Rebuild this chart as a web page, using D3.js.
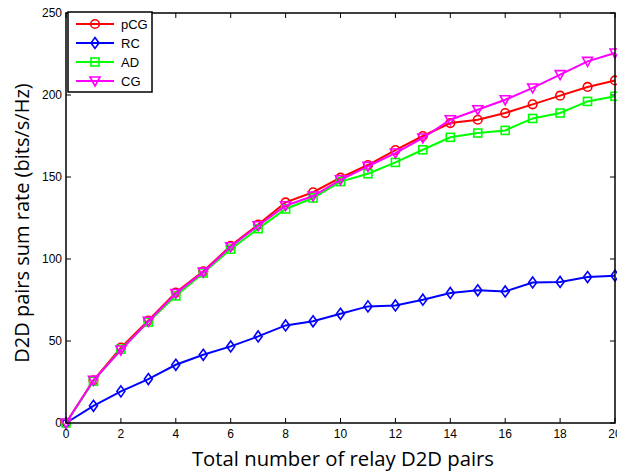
<!DOCTYPE html>
<html>
<head>
<meta charset="utf-8">
<script src="https://cdn.jsdelivr.net/npm/d3@7"></script>
<style>
  body { margin: 0; background: #fff; }
  svg { display: block; }
</style>
</head>
<body>
<div id="wrapper"></div>
<script>
// data
const pairs = d3.range(0, 21);
const pCG = [0, 26, 46, 62.5, 79.5, 92.5, 108, 121, 134.5, 140.7, 149.6, 157.3, 166.4, 175, 182.9, 184.9, 189, 194.3, 199.6, 204.9, 208.9];
const RC  = [0, 10.5, 19.3, 26.8, 35.5, 41.6, 46.7, 52.8, 59.5, 62, 66.6, 71.1, 71.7, 75.2, 79.3, 80.9, 80.2, 85.7, 86, 89, 89.8];
const AD  = [0, 25.5, 45, 61.5, 77.5, 91.5, 106, 118.5, 130.5, 137.2, 147.2, 152, 158.9, 166.6, 174.2, 176.8, 178.4, 185.7, 189, 196.1, 199.2];
const CG  = [0, 26, 44.5, 62, 79, 92, 107.5, 120.3, 132.5, 138.4, 148.3, 156.5, 164.6, 173.8, 184.9, 191, 197.1, 204.3, 212.4, 220.5, 225.6];
const xTicks = [0, 2, 4, 6, 8, 10, 12, 14, 16, 18, 20];
const yTicks = [0, 50, 100, 150, 200, 250];

const series = [
  {name: "pCG", values: pCG, color: "#ff0000", marker: "circle"},
  {name: "RC",  values: RC,  color: "#0000ff", marker: "diamond"},
  {name: "AD",  values: AD,  color: "#00ff00", marker: "square"},
  {name: "CG",  values: CG,  color: "#ff00ff", marker: "triangle"}
];

const dimensions = {width: 617, height: 473};
const margin = {left: 66, right: 2, top: 13, bottom: 50};

const xScale = d3.scaleLinear().domain([0, 20]).range([margin.left, dimensions.width - margin.right]);
const yScale = d3.scaleLinear().domain([0, 250]).range([dimensions.height - margin.bottom, margin.top]);

const svg = d3.select("#wrapper").append("svg")
  .attr("width", dimensions.width)
  .attr("height", dimensions.height);

const x0 = xScale(0), x1 = xScale(20), y0 = yScale(0), y1 = yScale(250);

// ticks (inside, on all four sides, MATLAB style)
const tickLen = 5;
const ticks = svg.append("g").attr("stroke", "#000").attr("stroke-width", 1);
xTicks.forEach(t => {
  ticks.append("line").attr("x1", xScale(t)).attr("x2", xScale(t)).attr("y1", y0).attr("y2", y0 - tickLen);
  ticks.append("line").attr("x1", xScale(t)).attr("x2", xScale(t)).attr("y1", y1).attr("y2", y1 + tickLen);
});
yTicks.forEach(t => {
  ticks.append("line").attr("x1", x0).attr("x2", x0 + tickLen).attr("y1", yScale(t)).attr("y2", yScale(t));
  ticks.append("line").attr("x1", x1).attr("x2", x1 - tickLen).attr("y1", yScale(t)).attr("y2", yScale(t));
});

// tick labels
svg.append("g").selectAll("text").data(xTicks).join("text")
  .attr("x", d => xScale(d)).attr("y", y0 + 15)
  .attr("text-anchor", "middle")
  .attr("font-family", "Liberation Sans, Arial, sans-serif").attr("font-size", 12)
  .text(d => d);
svg.append("g").selectAll("text").data(yTicks).join("text")
  .attr("x", x0 - 4).attr("y", d => yScale(d) + 4)
  .attr("text-anchor", "end")
  .attr("font-family", "Liberation Sans, Arial, sans-serif").attr("font-size", 12)
  .text(d => d);

// lines
const line = d3.line().x((d, i) => xScale(pairs[i])).y(d => yScale(d));

function drawMarker(g, type, color, cx, cy) {
  if (type === "circle") {
    g.append("circle").attr("cx", cx).attr("cy", cy).attr("r", 4.3);
  } else if (type === "diamond") {
    g.append("path").attr("d", `M${cx},${cy - 5.5}L${cx + 4},${cy}L${cx},${cy + 5.5}L${cx - 4},${cy}Z`);
  } else if (type === "square") {
    g.append("rect").attr("x", cx - 4).attr("y", cy - 4).attr("width", 8).attr("height", 8);
  } else {
    g.append("path").attr("d", `M${cx - 5},${cy - 4}L${cx + 5},${cy - 4}L${cx},${cy + 5}Z`);
  }
}

series.forEach(s => {
  const g = svg.append("g");
  g.append("path").datum(s.values)
    .attr("d", line)
    .attr("fill", "none")
    .attr("stroke", s.color)
    .attr("stroke-width", 2);
  const mg = g.append("g").attr("fill", "none").attr("stroke", s.color).attr("stroke-width", 1.6);
  s.values.forEach((v, i) => drawMarker(mg, s.marker, s.color, xScale(pairs[i]), yScale(v)));
});

// box
svg.append("rect")
  .attr("x", x0).attr("y", y1)
  .attr("width", x1 - x0).attr("height", y0 - y1)
  .attr("fill", "none").attr("stroke", "#000").attr("stroke-width", 1.5);

// legend
const legend = svg.append("g").attr("transform", "translate(68,12)");
legend.append("rect").attr("width", 84).attr("height", 80)
  .attr("fill", "#fff").attr("stroke", "#000").attr("stroke-width", 1.5);
series.forEach((s, i) => {
  const ly = 12 + i * 19;
  legend.append("line").attr("x1", 8).attr("x2", 46).attr("y1", ly).attr("y2", ly)
    .attr("stroke", s.color).attr("stroke-width", 2);
  const mg = legend.append("g").attr("fill", "none").attr("stroke", s.color).attr("stroke-width", 1.6);
  drawMarker(mg, s.marker, s.color, 27, ly);
  legend.append("text").attr("x", 53).attr("y", ly + 5)
    .attr("font-family", "Liberation Sans, Arial, sans-serif").attr("font-size", 13)
    .text(s.name);
});

// axis titles
svg.append("text")
  .attr("x", 343).attr("y", 466)
  .attr("text-anchor", "middle")
  .attr("font-family", "Open Sans, sans-serif").attr("font-size", 20.3)
  .text("Total number of relay D2D pairs");
svg.append("text")
  .attr("transform", "translate(29,223) rotate(-90)")
  .attr("text-anchor", "middle")
  .attr("font-family", "Open Sans, sans-serif").attr("font-size", 20)
  .text("D2D pairs sum rate (bits/s/Hz)");
</script>
</body>
</html>
